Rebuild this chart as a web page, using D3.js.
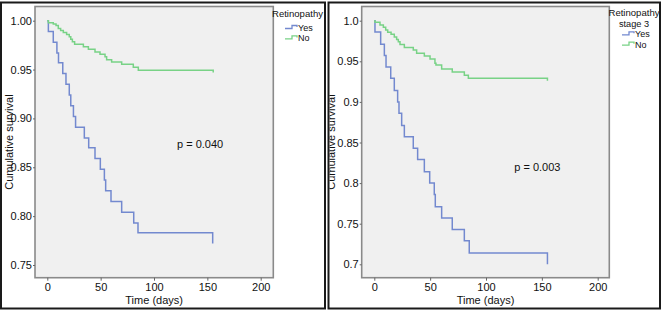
<!DOCTYPE html>
<html>
<head>
<meta charset="utf-8">
<title>Kaplan-Meier retinopathy</title>
<script src="https://d3js.org/d3.v7.min.js"></script>
<style>
  body { margin: 0; background: #fff; }
  svg text { font-family: "Liberation Sans", Arial, sans-serif; fill: #111; }
</style>
</head>
<body>
<div class="chart"></div>
<script>
// x ticks (days)
var xTicks = [0, 50, 100, 150, 200]

// left panel: Retinopathy
var leftYTicks = [0.75, 0.80, 0.85, 0.90, 0.95, 1.00]
var leftYLabels = ['0.75', '0.80', '0.85', '0.90', '0.95', '1.00']
var leftYesT = [0, 1, 5.6, 9, 10.5, 14.5, 17.5, 20.6, 22, 24.5, 26.5, 34.7, 38.8, 44.7, 49.7, 53.5, 54.7, 59.7, 69.7, 81, 85, 155]
var leftYesS = [1.000, 0.989, 0.978, 0.967, 0.957, 0.946, 0.935, 0.924, 0.913, 0.902, 0.891, 0.880, 0.870, 0.859, 0.848, 0.837, 0.826, 0.815, 0.804, 0.793, 0.783, 0.772]
var leftNoT = [0, 1, 5.6, 8.2, 10.3, 12.5, 15, 18.1, 20.6, 22, 23.5, 25.6, 33.8, 38.5, 44.7, 49.4, 54.1, 55.6, 60.3, 69.7, 80.6, 85.3, 155.5]
var leftNoS = [1.000, 0.998, 0.9966, 0.995, 0.992, 0.990, 0.988, 0.986, 0.9836, 0.981, 0.9785, 0.976, 0.9734, 0.9707, 0.968, 0.9656, 0.963, 0.960, 0.9577, 0.9554, 0.9523, 0.9492, 0.947]

// right panel: Retinopathy stage 3
var rightYTicks = [0.70, 0.75, 0.80, 0.85, 0.90, 0.95, 1.00]
var rightYLabels = ['0.7', '0.75', '0.8', '0.85', '0.9', '0.95', '1.0']
var rightYesT = [0, 0.6, 5.7, 9, 10.5, 14.7, 17.9, 20.9, 22.1, 24.5, 26.9, 34.9, 38.8, 44.8, 49.6, 53.7, 54.6, 60.3, 69.8, 80.6, 85, 155]
var rightYesS = [1.000, 0.986, 0.971, 0.957, 0.943, 0.929, 0.914, 0.900, 0.886, 0.871, 0.857, 0.843, 0.829, 0.814, 0.800, 0.786, 0.771, 0.757, 0.743, 0.729, 0.714, 0.700]
var rightNoT = [0, 0.6, 5.1, 8.1, 10.2, 12, 15, 17.9, 20, 21.5, 23, 26.9, 34.9, 37.9, 44.8, 49.9, 54.3, 55.2, 60.3, 69.8, 80.6, 84.2, 155]
var rightNoS = [1.000, 0.998, 0.9947, 0.9919, 0.9885, 0.9857, 0.9832, 0.980, 0.977, 0.974, 0.9708, 0.967, 0.9639, 0.9598, 0.9565, 0.9528, 0.9475, 0.9454, 0.9405, 0.9368, 0.9328, 0.929, 0.926]

var blue = '#7389cf'
var green = '#78d286'

var svg = d3.select('.chart').append('svg')
  .attr('width', 663).attr('height', 311)

// panel frames
svg.append('rect').attr('x', 1).attr('y', 2.5).attr('width', 324).attr('height', 306)
  .attr('fill', 'none').attr('stroke', '#1a1a1a').attr('stroke-width', 2)
svg.append('rect').attr('x', 328.5).attr('y', 2.5).attr('width', 331.5).attr('height', 306)
  .attr('fill', 'none').attr('stroke', '#1a1a1a').attr('stroke-width', 2)

svg.append('clipPath').attr('id', 'clipR')
  .append('rect').attr('x', 329.5).attr('y', 3.5).attr('width', 330).attr('height', 304)

var stepLine = d3.line().curve(d3.curveStepAfter)

function drawPanel(g, o) {
  var x = d3.scaleLinear().domain([0, 200]).range(o.xr)
  var y = d3.scaleLinear().domain(o.yd).range(o.yr)

  g.append('rect')
    .attr('x', o.box[0]).attr('y', o.box[1])
    .attr('width', o.box[2] - o.box[0]).attr('height', o.box[3] - o.box[1])
    .attr('fill', '#f0f0f0').attr('stroke', '#8a8a8a').attr('stroke-width', 1.6)

  var ya = g.append('g').attr('transform', `translate(${o.box[0]},0)`)
    .call(d3.axisLeft(y).tickValues(o.yTicks).tickFormat((d, i) => o.yLabels[i])
      .tickSize(2).tickPadding(1).tickSizeOuter(0))
  ya.select('.domain').remove()
  ya.selectAll('line').attr('stroke', '#666')
  ya.selectAll('text').style('font-size', '11px')

  var xa = g.append('g').attr('transform', `translate(0,${o.box[3]})`)
    .call(d3.axisBottom(x).tickValues(xTicks).tickSize(3).tickPadding(3).tickSizeOuter(0))
  xa.select('.domain').remove()
  xa.selectAll('line').attr('stroke', '#666')
  xa.selectAll('text').style('font-size', '11px')

  g.append('text')
    .attr('transform', `translate(${o.yTitleX},${(o.box[1] + o.box[3]) / 2}) rotate(-90)`)
    .attr('text-anchor', 'middle').style('font-size', '11px')
    .text('Cumulative survival')

  g.append('text')
    .attr('x', (o.box[0] + o.box[2]) / 2).attr('y', 304)
    .attr('text-anchor', 'middle').style('font-size', '11px')
    .text('Time (days)')

  o.series.forEach(s => {
    g.append('path')
      .attr('d', stepLine(s.t.map((t, i) => [x(t), y(s.s[i])])))
      .attr('fill', 'none').attr('stroke', s.color).attr('stroke-width', 1.5)
  })

  g.append('text').attr('x', o.p[0]).attr('y', o.p[1])
    .style('font-size', '11px').text(o.p[2])

  // legend
  var lg = o.legend
  lg.title.forEach((t, i) => {
    g.append('text').attr('x', lg.tx).attr('y', lg.ty + i * 10.6)
      .attr('text-anchor', lg.anchor).style('font-size', '9.2px')
      .attr('textLength', t === 'Retinopathy' ? 51 : null)
      .attr('lengthAdjust', 'spacingAndGlyphs')
      .text(t)
  })
  o.series.forEach((s, i) => {
    var yy = lg.iy + i * 10.4
    g.append('path')
      .attr('d', `M${lg.sx},${yy} H${lg.sx + 7} V${yy - 3} H${lg.sx + 12} V${yy - 1.5}`)
      .attr('fill', 'none').attr('stroke', s.color).attr('stroke-width', 1.3)
    g.append('text').attr('x', lg.sx + 13).attr('y', yy + 2.5)
      .style('font-size', '9px').text(s.name)
  })
}

drawPanel(svg.append('g'), {
  xr: [47.3, 260.7], yd: [0.75, 1.0], yr: [265, 20.7],
  box: [35, 6.5, 273.3, 277.7],
  yTicks: leftYTicks, yLabels: leftYLabels, yTitleX: 12.5,
  p: [177, 147.5, 'p = 0.040'],
  series: [
    {name: 'Yes', t: leftYesT, s: leftYesS, color: blue},
    {name: 'No', t: leftNoT, s: leftNoS, color: green}
  ],
  legend: {title: ['Retinopathy'], tx: 272, ty: 16.5, anchor: 'start', sx: 285, iy: 28.5}
})

drawPanel(svg.append('g').attr('clip-path', 'url(#clipR)'), {
  xr: [374.3, 597.7], yd: [0.7, 1.0], yr: [264.3, 20.7],
  box: [361.7, 6.5, 609.3, 277.7],
  yTicks: rightYTicks, yLabels: rightYLabels, yTitleX: 335,
  p: [514.3, 170.7, 'p = 0.003'],
  series: [
    {name: 'Yes', t: rightYesT, s: rightYesS, color: blue},
    {name: 'No', t: rightNoT, s: rightNoS, color: green}
  ],
  legend: {title: ['Retinopathy', 'stage 3'], tx: 634, ty: 16, anchor: 'middle', sx: 622, iy: 34.8}
})
</script>
</body>
</html>
